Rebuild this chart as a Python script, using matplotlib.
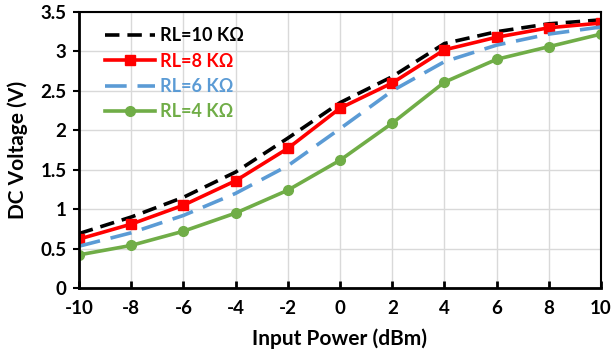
import matplotlib
matplotlib.use('Agg')
import matplotlib.pyplot as plt

# Input power sweep (dBm)
power = [-10, -8, -6, -4, -2, 0, 2, 4, 6, 8, 10]

# DC voltage for each load (V)
v_rl10 = [0.69, 0.90, 1.15, 1.47, 1.90, 2.35, 2.68, 3.10, 3.25, 3.35, 3.40]
v_rl8 = [0.62, 0.81, 1.05, 1.36, 1.77, 2.28, 2.60, 3.02, 3.18, 3.30, 3.36]
v_rl6 = [0.53, 0.70, 0.92, 1.20, 1.55, 2.02, 2.50, 2.87, 3.08, 3.22, 3.31]
v_rl4 = [0.42, 0.54, 0.72, 0.95, 1.24, 1.62, 2.09, 2.61, 2.90, 3.06, 3.22]

labels = ['RL=10 K\u03a9', 'RL=8 K\u03a9', 'RL=6 K\u03a9', 'RL=4 K\u03a9']
colors = ['black', '#FF0000', '#5B9BD5', '#70AD47']

plt.rcParams['font.family'] = ['Lato', 'DejaVu Sans']
plt.rcParams['font.weight'] = 'bold'

fig = plt.figure(figsize=(6.12, 3.57), dpi=100)
ax = fig.add_axes([79 / 612, 1 - 288 / 357, (601 - 79) / 612, (288 - 12) / 357])

ax.plot(power, v_rl10, color=colors[0], lw=2.6, dashes=(4, 2.2), label=labels[0])
ax.plot(power, v_rl8, color=colors[1], lw=2.6, marker='s', ms=7, label=labels[1])
ax.plot(power, v_rl6, color=colors[2], lw=2.6, dashes=(6, 3), label=labels[2])
ax.plot(power, v_rl4, color=colors[3], lw=2.6, marker='o', ms=7, label=labels[3])

ax.set_xlim(-10, 10)
ax.set_ylim(0, 3.5)
ax.set_xticks(power)
ax.set_xticklabels([str(p) for p in power])
ax.set_yticks([0, 0.5, 1, 1.5, 2, 2.5, 3, 3.5])
ax.set_yticklabels(['0', '0.5', '1', '1.5', '2', '2.5', '3', '3.5'])
ax.grid(True, color='#D9D9D9', lw=1)
ax.set_axisbelow(True)

for s in ['left', 'bottom']:
    ax.spines[s].set_linewidth(2)
for s in ['top', 'right']:
    ax.spines[s].set_linewidth(1.5)

ax.tick_params(axis='x', direction='in', length=5, width=2, labelsize=13.5, pad=9)
ax.tick_params(axis='y', direction='out', length=4, width=1.5, labelsize=13.5, pad=5)
for t in ax.get_xticklabels() + ax.get_yticklabels():
    t.set_fontweight('bold')

ax.set_xlabel('Input Power (dBm)', fontsize=15, fontweight='bold', labelpad=8)
ax.set_ylabel('DC Voltage (V)', fontsize=15, fontweight='bold', labelpad=9)

leg = ax.legend(loc='upper left', frameon=False, fontsize=13, handlelength=2.8,
                borderaxespad=0.45, labelspacing=0.46, handletextpad=0.25,
                bbox_to_anchor=(0.02, 1.0))
for txt, c in zip(leg.get_texts(), colors):
    txt.set_color(c)
    txt.set_fontweight('bold')

fig.savefig('out.png', dpi=100)
